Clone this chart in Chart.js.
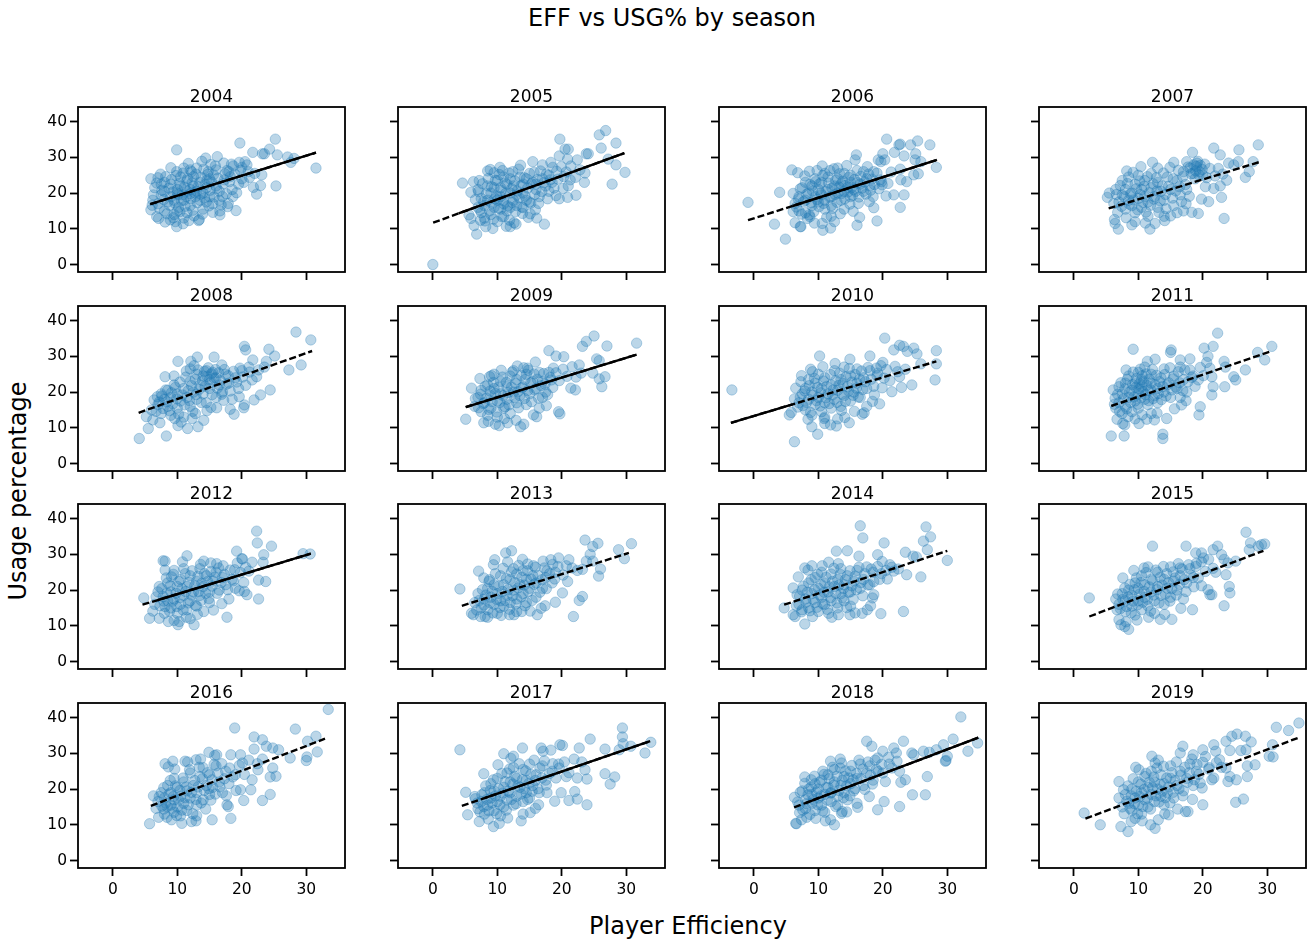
<!DOCTYPE html>
<html>
<head>
<meta charset="utf-8">
<script src="https://cdn.jsdelivr.net/npm/chart.js@4.4.1/dist/chart.umd.min.js"></script>
<style>
  body { margin: 0; background: #fff; font-family: "DejaVu Sans", sans-serif; }
  #fig { position: relative; width: 1313px; height: 946px; overflow: hidden; }
  #fig canvas { position: absolute; }
  .lbl { position: absolute; color: #000; white-space: nowrap; transform: translate(-50%, -50%); }
</style>
</head>
<body>
<div id="fig">
  <div class="lbl" style="left:672px;top:18px;font-size:24px">EFF vs USG% by season</div>
  <div class="lbl" style="left:688px;top:926px;font-size:24px">Player Efficiency</div>
  <div class="lbl" style="left:18px;top:491px;font-size:24px;transform:translate(-50%,-50%) rotate(-90deg)">Usage percentage</div>
</div>
<script>
// EFF (x) vs USG% (y), one panel per season

const seasons = ['2004','2005','2006','2007','2008','2009','2010','2011',
                 '2012','2013','2014','2015','2016','2017','2018','2019'];
const xTicks = [0, 10, 20, 30];
const yTicks = [0, 10, 20, 30, 40];

const pts2004 = [[5.9,24.0],[7.0,24.3],[6.5,21.5],[7.5,22.5],[8.0,20.5],[6.2,18.0],[7.0,17.0],[5.9,15.3],[6.8,13.4],[7.1,12.9],[8.0,15.0],[8.5,17.5],[9.0,19.0],[9.9,10.6],[9.7,12.0],[8.9,12.5],[9.5,14.0],[9.9,32.1],[9.9,26.0],[10.5,22.0],[10.0,21.0],[10.8,19.5],[11.0,18.0],[10.2,16.0],[11.5,14.5],[12.0,16.5],[11.0,27.0],[12.0,26.5],[12.2,26.0],[12.5,24.6],[11.5,23.5],[12.5,22.0],[13.0,20.5],[12.8,19.0],[13.5,18.0],[13.0,27.0],[13.3,12.3],[13.4,12.6],[14.0,15.5],[14.1,26.7],[14.4,29.8],[14.6,23.7],[14.8,26.0],[14.5,21.5],[14.0,20.0],[15.0,19.0],[15.5,17.0],[15.5,14.6],[15.6,25.1],[16.2,30.2],[16.0,22.0],[16.6,15.0],[16.5,20.5],[17.2,28.4],[17.3,23.7],[17.0,19.0],[17.7,26.3],[17.9,17.1],[18.2,24.6],[18.7,27.6],[18.5,21.0],[19.1,15.1],[19.6,28.6],[19.7,34.0],[19.5,22.5],[20.0,27.2],[20.5,28.8],[20.0,24.0],[21.0,26.0],[21.7,31.4],[21.8,21.6],[22.3,19.7],[22.0,25.5],[22.9,22.1],[23.1,25.1],[23.2,31.0],[23.5,31.0],[24.3,32.3],[25.2,35.1],[25.3,22.0],[25.5,30.7],[27.1,30.1],[27.6,28.6],[28.1,29.7],[31.5,27.0],[9.0,22.5],[8.0,23.0],[10.5,24.5],[11.5,20.5],[9.5,18.0],[12.0,21.0],[13.5,23.0],[15.0,24.0],[16.0,26.5],[18.0,26.0],[7.5,19.5],[10.0,15.0],[11.0,13.0],[14.5,17.5],[16.5,18.0],
  [6.3,19.5],[6.8,22.8],[7.2,15.8],[7.6,20.8],[7.9,18.2],[8.2,24.6],[8.4,14.2],[8.7,21.4],[8.8,16.6],[9.1,23.8],[9.3,20.3],[9.4,13.1],[9.6,17.2],[9.8,24.9],[10.1,19.6],[10.3,22.7],[10.4,14.8],[10.6,17.9],[10.9,25.6],[11.1,21.7],[11.2,16.3],[11.4,19.1],[11.6,24.1],[11.8,12.3],[12.1,18.4],[12.3,22.9],[12.4,15.2],[12.7,20.1],[12.9,25.3],[13.1,17.3],[13.2,21.8],[13.6,19.7],[13.7,24.4],[13.9,14.1],[14.2,18.6],[14.3,22.4],[14.7,25.2],[14.9,16.4],[15.1,20.8],[15.3,23.1],[15.7,18.9],[15.9,27.6],[16.1,21.3],[16.3,24.2],[16.8,16.7],[17.1,22.6],[17.4,25.4],[17.6,19.8],[18.1,23.2],[18.4,28.1],[18.9,25.3],[19.2,20.1],[19.8,26.4],[20.3,23.0],[20.8,27.9],[21.2,24.4],[8.1,11.9],[10.9,11.4],[12.6,13.6],[7.4,25.3],[9.0,27.1],[11.7,28.3],[13.8,28.9],[15.2,28.0],[6.1,16.6],[16.6,13.9],[17.8,16.2],[18.6,19.0],[10.0,20.0],[12.0,19.8]];
const pts2005 = [[0,0],[4.6,22.8],[5.9,20.2],[5.6,13.9],[5.9,12.9],[6.4,10.9],[6.8,8.5],[6.3,23.2],[7.2,23.5],[7.0,21.0],[7.5,18.5],[7.0,16.0],[8.2,10.6],[9.3,10.1],[8.0,13.0],[8.5,26.2],[9.5,25.7],[8.5,22.0],[9.0,20.0],[8.5,18.0],[9.5,16.0],[9.0,14.0],[10.0,12.0],[10.8,26.3],[10.0,23.5],[10.5,21.5],[10.5,19.0],[11.0,17.0],[11.5,15.0],[11.0,13.5],[12.0,10.6],[12.9,11.3],[12.4,26.0],[12.0,24.0],[12.5,22.0],[12.0,20.0],[12.5,18.0],[13.0,16.5],[13.9,14.3],[14.0,15.9],[13.5,24.5],[14.0,22.5],[14.0,20.0],[14.5,18.0],[15.5,28.8],[15.0,25.5],[15.5,23.0],[15.9,15.3],[16.0,21.0],[16.5,19.0],[17.0,27.9],[17.3,11.3],[17.0,24.0],[17.5,22.0],[18.6,27.2],[18.0,25.0],[18.5,23.0],[19.1,19.3],[19.6,18.4],[19.7,35.1],[19.6,30.4],[20.3,24.6],[20.5,32.3],[21.0,32.3],[20.9,29.5],[21.4,27.6],[21.0,22.0],[20.9,18.8],[22.2,19.4],[22.8,26.5],[23.5,23.0],[23.6,25.6],[23.8,31.0],[24.1,31.0],[25.8,36.3],[26.8,37.5],[26.1,32.6],[27.2,29.5],[27.8,22.5],[28.4,34.0],[28.4,27.9],[29.8,25.8],[10.0,18.0],[11.5,22.5],[13.0,19.5],[8.0,16.5],[9.5,21.5],[12.0,16.0],[15.0,17.5],[16.0,22.5],[18.0,20.5],[14.5,24.0],[11.0,24.5],[7.5,14.5],[10.5,15.5],
  [6.6,18.2],[7.1,20.4],[7.3,15.3],[7.7,22.6],[7.9,17.6],[8.1,12.2],[8.3,19.8],[8.6,24.1],[8.8,15.0],[9.1,21.8],[9.2,17.1],[9.4,12.7],[9.7,23.6],[9.9,19.2],[10.2,15.8],[10.3,25.2],[10.6,20.7],[10.7,13.4],[10.9,17.9],[11.2,22.8],[11.3,19.9],[11.6,16.4],[11.8,25.6],[11.9,12.4],[12.2,21.2],[12.3,17.4],[12.7,23.4],[12.8,14.8],[13.1,20.6],[13.3,26.7],[13.4,18.7],[13.7,22.1],[13.8,16.1],[14.2,24.3],[14.3,19.1],[14.7,21.4],[14.8,13.2],[15.2,17.2],[15.3,22.6],[15.7,25.8],[15.8,19.6],[16.2,23.8],[16.4,17.1],[16.7,26.2],[16.9,20.4],[17.2,22.9],[17.6,25.3],[17.8,18.4],[18.2,23.7],[18.3,28.6],[18.8,21.4],[19.2,26.1],[19.4,23.9],[19.9,27.4],[20.2,21.3],[20.7,25.9],[21.3,23.7],[22.4,29.3],[22.1,24.4],[8.9,26.6],[10.4,27.2],[11.4,10.7],[12.6,11.7],[13.6,27.8],[7.4,12.4],[15.1,14.2],[16.1,13.0],[9.6,18.4]];
const pts2006 = [[-0.9,17.4],[4.0,20.2],[3.2,11.3],[4.9,7.1],[5.9,26.5],[6.8,25.7],[6.4,11.7],[7.2,10.6],[7.3,10.6],[6.1,14.8],[6.4,17.1],[6.1,19.9],[9.8,26.3],[11.8,26.3],[8.7,13.4],[8.6,13.9],[10.7,9.6],[10.6,11.5],[12.5,12.0],[16.0,26.3],[15.9,30.7],[15.7,29.3],[16.2,17.1],[16.4,13.2],[16.0,11.0],[19.1,12.2],[18.6,15.9],[20.6,35.1],[20.0,31.0],[20.3,29.3],[19.3,29.3],[19.7,28.8],[19.8,23.2],[19.9,22.3],[19.6,23.7],[20.5,19.2],[21.7,19.5],[23.3,19.5],[22.7,16.0],[21.8,31.4],[22.5,33.5],[22.7,33.7],[23.3,30.4],[24.3,33.5],[25.4,34.6],[25.1,31.0],[25.0,29.3],[27.3,33.5],[22.7,26.7],[22.8,23.7],[23.7,23.2],[24.8,25.1],[25.5,25.4],[25.9,28.8],[28.3,27.2],[17.0,26.0],[18.6,26.0],[7.0,19.0],[7.5,21.5],[8.0,18.0],[8.0,23.0],[8.5,20.0],[9.0,16.5],[9.0,22.0],[9.5,19.0],[9.5,24.0],[10.0,17.5],[10.0,21.0],[10.5,19.5],[10.5,23.0],[11.0,15.5],[11.0,18.0],[11.5,21.0],[11.5,24.5],[12.0,19.0],[12.0,16.5],[12.5,22.0],[13.0,20.0],[13.0,24.0],[13.5,18.0],[13.5,22.5],[14.0,20.5],[14.0,25.5],[14.5,21.5],[15.0,19.0],[15.0,23.0],[15.5,21.0],[16.5,22.5],[17.0,20.5],[17.5,24.0],[18.0,22.0],[18.5,19.0],[7.0,15.0],[8.0,14.5],[12.0,13.5],[14.0,15.5],[13.0,27.0],[11.0,25.5],[15.0,25.0],
  [6.6,16.1],[6.9,18.3],[7.2,21.2],[7.4,14.1],[7.7,17.6],[7.9,24.8],[8.2,19.7],[8.3,12.9],[8.7,22.4],[8.9,17.3],[9.1,20.6],[9.3,14.8],[9.6,23.2],[9.8,18.2],[10.1,16.2],[10.2,22.6],[10.4,19.9],[10.7,24.9],[10.8,17.1],[11.2,20.4],[11.3,13.2],[11.6,22.8],[11.8,18.8],[12.1,21.4],[12.2,15.7],[12.6,19.6],[12.7,23.6],[12.9,17.4],[13.2,21.7],[13.3,25.4],[13.6,19.9],[13.8,23.3],[14.1,18.4],[14.2,22.1],[14.6,20.3],[14.7,24.4],[14.9,16.9],[15.2,21.6],[15.3,19.4],[15.6,23.8],[15.8,20.5],[16.1,22.9],[16.3,18.9],[16.6,24.7],[16.8,21.4],[17.2,23.1],[17.4,19.7],[17.8,25.3],[18.1,20.8],[18.3,23.9],[18.7,22.4],[19.1,25.6],[19.4,21.2],[17.6,27.4],[14.4,27.7],[12.4,26.8],[10.6,27.6],[8.6,26.1],[9.4,11.6],[11.9,10.2],[13.4,14.2],[15.4,14.9],[17.9,17.6],[20.8,22.7],[21.3,25.9]];
const pts2007 = [[5.2,18.8],[5.5,20.0],[6.3,12.6],[6.4,11.5],[6.9,9.9],[8.2,26.2],[9.5,12.0],[11.8,9.9],[12.6,11.5],[12.2,28.6],[14.1,12.3],[15.5,28.6],[17.5,28.8],[18.4,31.4],[19.1,28.4],[18.3,14.6],[19.3,14.3],[21.7,32.6],[22.7,30.7],[25.6,32.1],[23.3,12.9],[22.9,18.8],[19.8,18.3],[20.9,17.6],[28.6,33.5],[27.8,28.8],[27.2,26.0],[26.6,24.4],[24.0,28.4],[25.5,28.8],[24.8,27.9],[20.4,21.8],[21.7,21.3],[22.7,22.0],[6.5,21.0],[7.0,17.5],[7.5,19.5],[7.5,23.5],[8.0,15.5],[8.0,21.0],[8.5,18.0],[8.5,24.5],[9.0,16.5],[9.0,20.0],[9.5,22.5],[9.5,14.5],[10.0,18.5],[10.0,25.0],[10.5,16.0],[10.5,21.0],[11.0,19.0],[11.0,23.5],[11.5,13.5],[11.5,17.5],[12.0,21.5],[12.0,25.5],[12.5,19.0],[13.0,16.0],[13.0,23.0],[13.5,20.5],[14.0,18.0],[14.5,24.5],[15.0,21.0],[15.5,16.5],[16.0,23.5],[16.5,19.5],[17.0,26.0],[17.5,21.0],[18.0,27.0],[18.5,25.5],[19.0,27.5],[19.5,26.0],[18.8,24.0],[20.0,25.0],[16.0,14.5],[17.0,15.0],[14.0,13.5],
  [6.2,17.1],[6.6,19.6],[6.8,14.6],[7.2,22.1],[7.4,16.3],[7.8,19.0],[8.1,13.1],[8.3,22.7],[8.6,16.9],[8.8,19.8],[9.2,25.8],[9.3,18.1],[9.7,21.2],[9.9,15.3],[10.2,23.4],[10.3,19.6],[10.7,17.4],[10.9,21.9],[11.2,14.7],[11.4,24.6],[11.7,20.1],[11.9,16.6],[12.3,22.6],[12.4,18.3],[12.8,24.3],[12.9,20.6],[13.2,14.6],[13.4,17.8],[13.7,22.0],[13.9,25.6],[14.2,19.6],[14.3,15.6],[14.7,21.9],[14.9,27.2],[15.3,18.6],[15.4,24.0],[15.8,20.6],[16.2,26.4],[16.4,21.8],[16.7,17.6],[16.9,24.6],[17.3,22.4],[17.7,27.3],[17.9,19.1],[18.2,25.4],[18.6,27.9],[18.9,26.2],[19.2,28.9],[19.4,25.1],[19.6,27.8],[19.9,26.6],[20.3,28.1],[20.6,24.3],[21.1,26.9],[21.9,24.8],[22.4,26.9],[23.1,25.3],[23.7,23.6],[10.4,27.4],[13.0,27.0],[11.1,11.6],[9.0,11.1],[15.0,13.6],[17.4,17.0]];
const pts2008 = [[4.1,7.0],[5.5,9.8],[8.3,7.7],[5.2,13.1],[6.4,17.8],[6.9,18.7],[7.5,19.5],[8.1,24.3],[10.1,28.6],[12.1,28.6],[13.1,29.8],[10.1,10.6],[11.6,9.8],[13.2,10.3],[12.8,14.0],[14.6,14.8],[15.2,15.7],[15.7,29.8],[16.9,27.6],[18.8,13.8],[20.3,15.6],[20.4,16.4],[20.4,32.8],[20.6,31.8],[21.9,17.8],[22.9,19.2],[24.4,20.6],[24.2,32.0],[25.1,30.1],[23.8,28.6],[23.5,27.0],[22.3,24.3],[27.3,26.2],[28.4,36.8],[29.2,27.6],[30.7,34.6],[21.7,29.0],[21.1,27.0],[6.0,15.0],[7.0,16.5],[7.5,14.0],[8.0,18.0],[8.5,16.0],[8.5,20.5],[9.0,13.5],[9.0,18.5],[9.5,22.0],[10.0,15.5],[10.0,19.5],[10.5,17.5],[11.0,21.0],[11.0,13.0],[11.5,18.5],[12.0,16.0],[12.0,23.0],[12.5,20.0],[13.0,18.0],[13.0,25.0],[13.5,22.0],[14.0,24.5],[14.0,19.5],[14.5,26.0],[15.0,23.5],[15.0,21.0],[15.5,25.5],[16.0,18.5],[16.0,24.0],[16.5,22.0],[17.0,20.0],[17.5,25.0],[18.0,22.5],[18.5,18.0],[19.0,24.0],[19.5,21.0],[20.0,26.0],[14.5,17.0],[12.0,26.5],[9.5,24.5],
  [6.7,14.6],[7.2,17.2],[7.6,18.9],[7.8,15.4],[8.2,20.6],[8.4,17.3],[8.8,14.8],[9.1,19.8],[9.3,16.7],[9.7,21.3],[9.9,18.1],[10.2,13.8],[10.4,22.8],[10.8,19.2],[11.1,16.4],[11.3,24.2],[11.7,20.4],[11.9,17.6],[12.2,21.8],[12.4,14.6],[12.8,23.6],[12.9,19.3],[13.2,26.2],[13.4,20.8],[13.7,17.1],[13.9,23.2],[14.2,25.8],[14.3,21.6],[14.6,24.4],[14.8,26.8],[15.1,22.6],[15.3,25.1],[15.4,19.3],[15.7,23.9],[15.9,26.3],[16.2,21.1],[16.4,25.4],[16.7,23.2],[16.9,19.4],[17.3,26.3],[17.6,22.2],[17.9,24.6],[18.2,20.3],[18.7,25.8],[19.2,22.8],[19.7,26.7],[20.1,24.2],[20.6,21.9],[21.2,25.6],[21.6,23.4],[22.6,26.2],[11.4,25.9],[12.6,27.4],[10.6,11.6],[12.3,12.6],[14.1,12.1],[16.1,15.6],[17.2,17.7],[9.6,12.6],[18.2,15.2],[6.2,12.2],[7.3,11.4],[19.6,18.7]];
const pts2009 = [[5.1,12.4],[6.0,21.1],[7.3,23.8],[8.8,24.3],[7.9,11.4],[9.7,11.0],[10.3,10.6],[11.6,11.4],[13.6,10.3],[14.1,11.0],[15.6,13.6],[18.0,31.6],[19.1,30.1],[20.3,29.9],[19.5,14.5],[19.7,13.9],[21.4,21.1],[22.1,20.6],[22.7,27.6],[23.0,25.3],[23.2,32.8],[23.8,34.2],[25.0,35.7],[25.4,29.3],[25.8,28.8],[27.0,32.9],[24.8,25.3],[26.7,24.3],[25.8,23.7],[26.2,21.5],[31.6,33.7],[18.4,23.4],[18.7,26.7],[14.1,26.8],[14.7,26.7],[15.9,28.4],[6.5,16.0],[7.0,18.5],[7.5,14.5],[7.5,20.5],[8.0,17.0],[8.5,22.0],[8.5,13.5],[9.0,19.0],[9.0,15.5],[9.5,21.0],[10.0,17.5],[10.0,13.0],[10.5,23.0],[10.5,19.5],[11.0,15.5],[11.5,21.5],[11.5,18.0],[12.0,24.5],[12.0,14.0],[12.5,20.0],[13.0,17.0],[13.0,23.5],[13.5,19.0],[14.0,21.5],[14.5,25.0],[14.5,16.5],[15.0,19.5],[15.5,23.0],[16.0,21.0],[16.5,25.5],[17.0,18.5],[17.0,23.0],[17.5,20.0],[18.0,25.5],[16.5,15.5],[12.5,26.0],[9.5,25.0],
  [6.6,18.2],[7.1,15.6],[7.4,19.4],[7.8,16.8],[8.1,21.6],[8.3,18.3],[8.7,15.1],[8.9,20.3],[9.2,17.3],[9.4,22.7],[9.7,19.6],[9.9,14.4],[10.2,21.4],[10.4,17.1],[10.8,24.2],[10.9,19.0],[11.2,15.9],[11.4,22.7],[11.7,19.9],[11.8,16.4],[12.2,21.4],[12.3,25.6],[12.7,18.4],[12.8,22.5],[13.2,20.1],[13.3,15.6],[13.7,24.6],[13.8,21.2],[14.2,18.2],[14.3,23.5],[14.7,20.4],[14.8,26.1],[15.2,22.6],[15.3,17.3],[15.7,25.1],[15.8,20.6],[16.2,23.6],[16.4,18.3],[16.8,21.8],[17.2,25.2],[17.4,22.2],[17.8,19.3],[18.2,24.1],[18.6,21.3],[19.1,25.4],[19.6,23.2],[20.2,26.4],[20.8,24.4],[21.6,27.1],[22.2,24.2],[8.6,11.8],[11.1,12.6],[12.9,12.1],[16.1,13.1],[17.6,16.2],[10.6,26.1],[13.1,27.3],[9.1,24.6]];
const pts2010 = [[-3.4,20.6],[6.3,6.1],[5.5,13.6],[5.8,14.3],[6.5,21.1],[6.3,18.1],[7.3,22.9],[8.8,26.4],[9.1,25.7],[10.2,30.1],[9.0,10.3],[9.9,8.2],[11.0,11.2],[11.9,10.8],[12.8,10.5],[14.8,11.4],[16.8,13.8],[17.1,14.2],[14.9,29.2],[18.0,30.1],[19.5,16.7],[18.7,19.2],[20.3,35.1],[20.0,28.3],[19.0,26.7],[21.7,31.8],[22.6,33.1],[23.2,32.8],[23.8,31.4],[24.8,32.3],[25.3,30.7],[21.4,20.1],[22.9,21.3],[24.5,22.0],[23.5,26.4],[22.3,25.7],[22.6,24.3],[25.9,27.9],[28.3,31.6],[28.3,27.9],[28.1,23.4],[19.2,25.3],[20.2,23.9],[7.0,17.0],[7.5,19.5],[8.0,15.0],[8.0,21.0],[8.5,18.0],[8.5,23.5],[9.0,13.5],[9.0,20.0],[9.5,16.5],[9.5,22.5],[10.0,18.5],[10.0,25.0],[10.5,14.5],[10.5,21.0],[11.0,17.0],[11.0,24.0],[11.5,19.5],[12.0,22.0],[12.0,15.5],[12.5,26.0],[12.5,18.0],[13.0,20.5],[13.5,23.5],[13.5,16.0],[14.0,19.0],[14.0,27.0],[14.5,21.5],[15.0,17.5],[15.0,24.5],[15.5,20.0],[16.0,26.5],[16.0,22.5],[16.5,18.5],[17.0,24.0],[17.5,21.0],[18.0,26.0],[13.0,12.5],[11.0,13.0],[17.5,16.0],
  [6.8,15.8],[7.2,18.6],[7.6,16.2],[7.9,20.3],[8.2,17.1],[8.6,21.8],[8.8,14.3],[9.2,19.1],[9.4,23.8],[9.7,17.6],[9.9,21.3],[10.3,16.1],[10.4,19.8],[10.8,23.1],[11.2,18.4],[11.3,21.6],[11.7,16.8],[11.9,24.9],[12.2,19.2],[12.3,20.6],[12.7,23.2],[12.9,17.1],[13.2,21.9],[13.3,25.3],[13.7,19.4],[13.8,22.4],[14.2,17.4],[14.3,24.3],[14.7,20.3],[14.8,26.6],[15.2,22.8],[15.4,19.1],[15.7,24.9],[15.9,21.1],[16.2,18.6],[16.4,23.6],[16.7,25.9],[16.9,20.7],[17.3,22.9],[17.7,26.9],[18.2,23.6],[18.6,21.6],[19.1,24.6],[19.7,27.4],[20.6,26.3],[21.1,23.2],[21.9,27.2],[10.7,27.1],[12.6,28.0],[8.4,12.4],[10.9,12.6],[14.1,12.9],[15.6,14.6],[13.6,14.9],[7.4,24.6],[18.4,17.4],[19.9,21.2]];
const pts2011 = [[5.8,7.7],[7.8,7.7],[13.8,8.2],[13.8,7.0],[9.2,32.0],[8.1,26.2],[6.4,18.3],[6.1,20.6],[7.0,21.5],[6.7,12.4],[7.6,11.2],[7.9,10.8],[10.1,11.2],[11.3,12.4],[12.5,12.2],[14.4,12.6],[15.1,31.8],[15.0,31.1],[16.5,29.0],[16.5,27.0],[18.0,29.3],[16.7,16.4],[16.5,18.5],[19.4,13.6],[19.6,15.9],[20.2,32.3],[21.6,32.8],[22.3,36.5],[20.8,30.0],[21.1,26.7],[21.4,24.3],[21.6,21.5],[21.4,19.2],[23.3,28.6],[23.5,27.0],[23.4,21.5],[24.8,24.3],[25.1,23.4],[26.6,26.2],[28.5,31.1],[29.6,29.0],[30.7,32.8],[19.3,23.4],[18.0,26.2],[6.5,15.5],[7.0,17.0],[7.5,14.0],[7.5,19.5],[8.0,22.5],[8.0,16.0],[8.5,18.5],[8.5,24.5],[9.0,20.5],[9.0,14.5],[9.5,22.5],[9.5,17.5],[10.0,25.5],[10.0,19.5],[10.0,15.5],[10.5,21.5],[10.5,23.5],[11.0,18.0],[11.0,27.0],[11.5,20.5],[11.5,16.5],[12.0,22.5],[12.0,25.0],[12.5,19.0],[13.0,21.0],[13.0,17.0],[13.5,24.0],[14.0,20.0],[14.5,22.0],[15.0,18.5],[15.5,24.5],[16.0,21.0],[17.0,23.5],[17.5,20.0],[18.5,24.5],[12.0,14.0],[9.5,12.5],[14.0,26.5],
  [6.3,16.6],[6.8,19.4],[7.1,14.6],[7.3,22.6],[7.7,18.1],[7.9,20.9],[8.2,15.3],[8.3,23.6],[8.6,19.9],[8.8,17.1],[9.1,22.1],[9.2,25.6],[9.3,18.6],[9.6,21.3],[9.7,23.8],[9.9,16.6],[10.1,20.9],[10.2,22.4],[10.3,26.4],[10.4,18.4],[10.6,24.6],[10.7,20.1],[10.8,22.9],[11.1,19.3],[11.2,25.1],[11.3,21.9],[11.6,17.6],[11.7,23.6],[11.9,20.6],[12.2,26.3],[12.3,18.2],[12.6,22.1],[12.8,24.7],[13.1,19.6],[13.3,22.9],[13.6,17.9],[13.8,21.6],[14.1,24.9],[14.3,18.9],[14.7,22.6],[14.9,26.8],[15.2,20.6],[15.4,23.7],[15.8,21.4],[16.2,25.7],[16.4,22.6],[16.9,20.4],[17.2,26.2],[17.7,22.9],[18.3,24.1],[18.8,21.6],[19.6,26.9],[20.1,24.6],[20.6,28.3],[8.4,13.1],[10.6,13.6],[12.9,14.1],[15.6,15.3],[17.4,17.6],[11.4,28.6],[12.6,29.2]];
const pts2012 = [[4.8,17.8],[5.7,12.1],[7.2,12.1],[8.6,11.2],[10.1,10.3],[10.3,11.2],[12.6,10.3],[7.8,28.2],[8.1,28.1],[9.1,23.7],[7.2,21.0],[7.8,18.2],[8.1,15.4],[11.5,29.6],[14.1,14.0],[17.7,12.4],[15.2,27.6],[16.1,27.4],[17.1,26.8],[19.2,30.9],[20.0,28.8],[20.1,28.7],[20.3,22.1],[20.8,18.7],[20.4,19.6],[22.6,17.5],[22.3,36.5],[22.4,33.2],[24.6,32.3],[23.4,29.9],[23.3,27.8],[22.6,22.8],[23.7,22.4],[29.5,30.2],[30.6,30.1],[18.9,25.7],[21.1,25.3],[6.5,16.0],[7.0,19.5],[8.0,13.5],[8.5,17.0],[8.5,22.0],[9.0,15.0],[9.0,19.5],[9.5,17.5],[9.5,25.5],[10.0,13.5],[10.0,21.0],[10.5,16.0],[10.5,23.0],[11.0,18.5],[11.0,26.0],[11.5,14.5],[11.5,21.0],[12.0,17.0],[12.0,24.0],[12.5,19.5],[13.0,22.5],[13.0,15.5],[13.5,26.0],[13.5,18.5],[14.0,21.0],[14.5,24.0],[15.0,19.5],[15.0,16.5],[15.5,22.5],[16.0,25.0],[16.5,20.0],[17.0,23.5],[17.5,21.5],[18.0,17.5],[18.5,23.0],[19.0,20.5],[12.0,12.0],[9.5,11.5],
  [6.2,14.1],[6.7,18.1],[7.3,15.6],[7.6,20.4],[7.9,16.9],[8.3,23.4],[8.4,19.1],[8.8,14.1],[8.9,21.2],[9.3,16.9],[9.4,24.4],[9.8,19.1],[9.9,15.4],[10.2,22.4],[10.4,17.9],[10.7,20.4],[10.9,14.4],[11.2,24.6],[11.3,19.6],[11.7,16.4],[11.8,22.2],[12.2,18.6],[12.3,25.4],[12.7,21.2],[12.8,15.7],[13.2,23.9],[13.3,19.6],[13.7,17.1],[13.8,21.9],[14.2,24.6],[14.4,19.1],[14.7,22.4],[14.9,17.6],[15.2,25.2],[15.4,21.1],[15.8,23.6],[16.2,19.1],[16.4,26.2],[16.8,22.1],[17.3,24.4],[17.8,20.1],[18.2,25.6],[18.7,22.6],[19.3,27.6],[19.8,24.9],[20.6,26.4],[21.6,27.8],[13.6,27.2],[10.8,27.9],[11.4,12.4],[13.1,13.2],[15.6,14.4],[16.9,16.2],[19.6,19.8],[8.1,25.6],[14.1,28.1]];
const pts2013 = [[4.2,20.3],[6.0,13.5],[6.3,13.1],[7.1,25.3],[7.9,23.4],[8.8,22.9],[7.4,12.6],[8.5,12.4],[9.6,28.5],[11.3,30.4],[12.2,31.0],[11.9,13.1],[13.8,14.0],[16.2,13.1],[16.8,14.9],[19.0,16.6],[17.1,28.1],[18.3,28.5],[19.5,29.0],[21.1,28.5],[20.7,26.8],[21.8,12.6],[22.7,17.1],[23.2,18.2],[20.1,19.2],[22.4,25.5],[23.2,25.8],[23.6,34.0],[24.8,32.2],[25.6,33.1],[24.4,30.0],[24.8,28.1],[23.8,28.1],[26.0,25.9],[25.7,23.9],[28.8,31.3],[29.7,28.8],[30.8,33.0],[17.7,25.4],[15.6,26.8],[14.7,27.3],[6.5,16.5],[7.0,19.0],[7.5,15.0],[8.0,17.5],[8.5,20.5],[8.5,14.5],[9.0,18.0],[9.5,16.0],[9.5,21.5],[10.0,13.5],[10.0,19.0],[10.5,17.0],[10.5,24.0],[11.0,15.5],[11.0,21.5],[11.5,18.5],[12.0,16.5],[12.0,23.0],[12.5,20.0],[12.5,26.0],[13.0,17.5],[13.0,24.5],[13.5,21.5],[14.0,19.0],[14.0,25.5],[14.5,16.5],[14.5,23.0],[15.0,20.5],[15.5,24.0],[16.0,18.0],[16.0,22.0],[17.0,20.5],[17.5,23.5],[18.5,22.0],[19.0,25.0],[13.0,14.0],
  [6.8,14.4],[7.2,17.1],[7.7,20.1],[7.9,15.8],[8.2,18.6],[8.7,22.4],[8.9,16.4],[9.2,19.6],[9.3,13.6],[9.7,24.6],[9.9,17.4],[10.2,21.1],[10.4,15.1],[10.8,19.6],[10.9,26.1],[11.2,17.1],[11.4,23.2],[11.7,20.1],[11.9,14.6],[12.2,25.1],[12.4,18.4],[12.7,22.1],[12.9,16.1],[13.2,20.6],[13.3,26.9],[13.7,18.1],[13.8,23.6],[14.2,21.4],[14.3,15.6],[14.7,25.4],[14.8,19.6],[15.2,23.1],[15.4,17.1],[15.7,21.6],[15.9,26.4],[16.3,24.1],[16.6,19.4],[16.9,22.9],[17.3,26.2],[17.6,20.4],[18.1,24.6],[18.6,27.2],[18.9,23.1],[19.4,26.6],[20.2,24.2],[20.9,22.4],[21.6,26.2],[8.1,12.6],[10.6,12.9],[12.6,13.1],[15.1,14.1],[17.4,15.6],[11.6,27.9],[13.9,28.6],[9.4,27.1]];
const pts2014 = [[4.7,15.0],[6.1,13.1],[6.4,12.6],[7.9,10.5],[6.9,23.7],[7.9,26.2],[9.0,26.8],[6.1,20.6],[6.7,18.7],[11.6,27.8],[12.8,30.9],[14.5,31.0],[16.5,38.0],[16.9,34.6],[11.6,13.5],[13.1,13.1],[14.9,13.1],[16.8,13.5],[17.6,14.5],[19.7,13.4],[20.2,33.2],[19.2,29.9],[16.3,29.5],[18.4,17.8],[18.6,18.7],[23.2,14.0],[23.5,30.6],[24.7,29.5],[25.2,29.3],[23.7,24.3],[25.9,23.7],[26.3,33.7],[26.7,37.7],[27.4,34.9],[26.9,31.3],[30.0,28.3],[21.7,25.3],[21.1,27.1],[19.9,28.0],[7.0,16.0],[7.5,14.5],[7.5,20.0],[8.0,17.5],[8.5,22.0],[8.5,15.0],[9.0,19.0],[9.5,16.5],[9.5,23.5],[10.0,14.0],[10.0,20.5],[10.5,18.0],[10.5,25.0],[11.0,16.0],[11.0,22.0],[11.5,19.5],[12.0,24.5],[12.0,17.0],[12.5,21.0],[13.0,15.0],[13.0,23.0],[13.5,19.0],[13.5,26.0],[14.0,17.0],[14.0,21.5],[14.5,24.0],[15.0,19.5],[15.0,15.5],[15.5,22.5],[16.0,25.5],[16.5,20.5],[17.0,23.0],[17.5,26.5],[18.0,21.5],[18.5,25.0],[19.5,23.0],[20.5,25.5],
  [6.6,15.6],[7.1,18.3],[7.4,13.9],[7.7,21.1],[8.1,16.6],[8.3,19.4],[8.7,14.2],[8.9,22.9],[9.2,17.4],[9.4,20.1],[9.8,15.2],[9.9,24.4],[10.2,18.6],[10.4,21.6],[10.7,16.1],[10.9,19.4],[11.2,23.6],[11.4,14.6],[11.7,20.9],[11.9,17.9],[12.2,22.4],[12.4,26.1],[12.7,19.1],[12.9,16.4],[13.2,21.4],[13.4,24.4],[13.7,17.9],[13.9,20.4],[14.2,22.9],[14.4,15.1],[14.7,19.4],[14.9,25.4],[15.2,21.2],[15.4,17.4],[15.7,23.9],[15.9,20.1],[16.3,26.4],[16.6,22.1],[16.9,18.4],[17.2,24.6],[17.7,21.4],[18.2,25.9],[18.6,22.4],[19.2,26.6],[19.8,24.6],[20.7,23.1],[21.4,26.4],[22.4,25.9],[9.1,12.6],[12.1,12.4],[15.7,13.6],[18.1,15.6],[13.1,27.4],[10.6,26.8],[8.4,25.6]];
const pts2015 = [[2.4,17.8],[6.7,14.5],[7.0,11.7],[7.3,10.3],[8.5,9.0],[7.9,9.8],[7.6,23.4],[9.3,25.5],[10.9,26.2],[12.2,32.3],[15.2,11.8],[13.4,11.8],[16.5,26.2],[17.4,32.3],[18.9,30.4],[19.8,30.4],[20.1,29.0],[21.6,31.3],[22.3,32.3],[22.9,29.9],[18.4,14.5],[21.1,18.7],[21.4,18.7],[20.8,20.1],[19.8,21.2],[22.0,25.0],[23.6,24.3],[23.9,27.6],[23.3,28.6],[24.1,21.0],[24.2,19.2],[23.3,15.6],[25.1,28.1],[26.7,36.2],[27.4,33.2],[27.2,31.3],[28.6,32.3],[29.1,32.7],[29.6,32.9],[6.5,17.5],[7.0,16.0],[7.5,19.0],[8.0,14.0],[8.0,17.0],[8.5,20.0],[9.0,15.5],[9.0,18.5],[9.5,13.0],[9.5,22.0],[10.0,17.0],[10.0,20.5],[10.5,14.5],[10.5,24.0],[11.0,18.0],[11.0,21.5],[11.5,15.5],[11.5,26.5],[12.0,19.5],[12.0,23.0],[12.5,17.0],[12.5,13.5],[13.0,21.0],[13.0,25.0],[13.5,18.5],[14.0,23.0],[14.0,16.0],[14.5,20.5],[15.0,26.5],[15.0,18.0],[15.5,22.5],[16.0,20.0],[16.5,24.0],[17.0,17.5],[17.5,22.0],[18.0,26.0],[18.5,23.5],[19.0,27.5],
  [6.8,18.9],[7.2,14.8],[7.6,17.4],[7.9,20.6],[8.2,15.4],[8.4,18.1],[8.7,21.6],[8.9,13.6],[9.2,16.9],[9.4,20.1],[9.7,23.4],[9.9,15.9],[10.2,18.9],[10.4,22.1],[10.7,16.6],[10.9,19.6],[11.2,24.9],[11.4,17.4],[11.7,20.9],[11.9,14.1],[12.2,22.6],[12.4,18.6],[12.7,25.6],[12.9,20.1],[13.2,16.4],[13.4,23.6],[13.7,21.4],[13.9,26.6],[14.2,18.9],[14.4,24.6],[14.7,22.1],[14.9,16.9],[15.2,20.4],[15.4,25.1],[15.7,23.4],[15.9,18.6],[16.2,27.4],[16.4,21.6],[16.8,25.9],[17.1,22.9],[17.4,19.6],[17.8,27.1],[18.2,24.1],[18.6,20.9],[18.9,26.6],[19.3,23.4],[19.8,27.9],[20.4,25.2],[20.9,28.6],[21.6,26.1],[9.8,11.6],[11.6,12.4],[14.1,13.2],[16.6,14.9],[8.1,11.1]];
const pts2016 = [[5.7,10.3],[6.3,18.1],[7.1,12.1],[8.6,26.2],[9.3,27.8],[7.9,14.4],[8.4,15.1],[9.1,11.4],[10.7,10.4],[12.2,10.9],[11.2,27.8],[12.9,28.2],[14.9,30.3],[15.8,29.4],[15.4,11.4],[18.3,11.8],[17.7,15.6],[17.9,15.1],[18.9,37.1],[18.3,29.6],[19.8,29.6],[20.1,27.3],[20.3,16.8],[21.4,19.8],[19.8,19.8],[21.9,34.6],[23.2,33.8],[21.9,31.2],[23.8,32.0],[24.8,31.5],[25.7,31.0],[22.5,25.4],[23.2,28.4],[23.2,16.8],[24.4,18.5],[24.4,23.4],[24.8,25.9],[25.3,23.6],[27.5,28.7],[28.3,36.8],[30.0,28.0],[30.1,29.0],[30.2,33.4],[31.5,34.8],[31.7,30.4],[33.4,42.3],[7.0,16.5],[7.5,19.0],[8.0,13.0],[8.0,17.5],[8.5,21.0],[9.0,15.5],[9.0,19.0],[9.5,13.5],[9.5,17.0],[9.5,23.0],[10.0,15.0],[10.0,20.5],[10.5,18.0],[10.5,12.5],[11.0,16.0],[11.0,22.0],[11.5,19.5],[11.5,14.0],[12.0,17.5],[12.0,24.5],[12.5,21.0],[13.0,15.5],[13.0,19.0],[13.5,23.5],[14.0,17.0],[14.0,26.0],[14.5,21.0],[15.0,18.5],[15.0,24.0],[15.5,20.5],[16.0,26.5],[16.5,22.0],[17.0,19.0],[17.5,25.0],[18.0,21.5],[19.0,24.0],[13.0,12.5],
  [6.7,14.6],[7.2,17.9],[7.6,15.2],[7.9,20.4],[8.2,16.1],[8.4,12.1],[8.7,18.6],[8.9,22.4],[9.2,14.6],[9.4,17.9],[9.7,20.9],[9.9,12.6],[10.2,16.9],[10.4,19.6],[10.7,14.1],[10.9,23.1],[11.2,17.6],[11.4,20.6],[11.7,15.6],[11.9,25.4],[12.2,19.1],[12.4,13.1],[12.7,22.4],[12.9,17.1],[13.2,20.6],[13.4,26.1],[13.7,16.1],[13.9,22.9],[14.2,19.6],[14.4,14.4],[14.7,24.6],[14.9,20.1],[15.2,16.9],[15.4,22.6],[15.7,26.9],[15.9,18.6],[16.3,24.4],[16.6,20.6],[16.9,27.1],[17.3,22.9],[17.6,18.1],[18.1,25.9],[18.6,23.4],[19.1,19.6],[19.6,26.6],[20.4,24.1],[21.1,28.1],[21.6,22.6],[22.4,27.1],[9.6,25.6],[11.6,27.6],[13.6,28.4],[16.1,29.6],[8.1,27.1],[12.9,11.1]];
const pts2017 = [[4.2,31.0],[5.1,19.1],[5.4,12.8],[7.2,10.9],[6.5,17.9],[6.6,17.3],[7.9,24.3],[9.4,9.5],[10.3,10.4],[13.7,11.1],[10.1,26.8],[11.0,29.9],[12.5,29.2],[13.9,31.5],[15.9,14.6],[16.8,31.5],[17.1,30.6],[18.3,30.9],[19.7,32.4],[20.1,32.2],[17.7,19.0],[18.9,16.6],[19.9,19.0],[21.1,16.8],[22.0,19.3],[22.4,17.2],[23.9,15.6],[22.7,31.5],[24.4,34.0],[26.7,31.2],[28.9,31.0],[29.4,37.1],[29.4,34.6],[29.5,32.7],[30.7,32.0],[32.9,30.1],[33.8,33.1],[20.7,23.5],[22.4,23.1],[23.6,25.4],[23.9,22.8],[26.7,24.3],[28.2,23.4],[27.5,21.4],[7.0,14.5],[7.5,16.5],[8.0,13.0],[8.0,19.0],[8.5,15.5],[9.0,17.5],[9.0,21.5],[9.5,14.0],[9.5,19.5],[10.0,16.5],[10.0,23.0],[10.5,18.0],[10.5,12.5],[11.0,20.5],[11.0,15.0],[11.5,17.0],[11.5,24.5],[12.0,19.0],[12.0,22.0],[12.5,15.5],[12.5,26.0],[13.0,18.0],[13.0,23.0],[13.5,20.5],[14.0,16.5],[14.0,25.5],[14.5,19.0],[14.5,22.5],[15.0,17.5],[15.0,27.0],[15.5,21.0],[16.0,24.0],[16.5,19.0],[17.0,26.5],[17.5,22.5],[18.5,25.0],[19.5,27.0],[14.0,13.0],
  [6.9,16.1],[7.3,13.6],[7.6,18.4],[7.9,15.1],[8.2,20.9],[8.4,17.1],[8.7,13.9],[8.9,19.6],[9.2,16.1],[9.4,22.6],[9.7,18.1],[9.9,13.1],[10.2,20.1],[10.4,15.6],[10.7,24.4],[10.9,18.9],[11.2,22.1],[11.4,14.1],[11.7,19.4],[11.9,25.6],[12.2,17.1],[12.4,21.4],[12.7,23.6],[12.9,15.9],[13.2,20.9],[13.4,27.1],[13.7,18.6],[13.9,22.6],[14.2,20.1],[14.4,25.1],[14.7,17.1],[14.9,21.6],[15.2,24.1],[15.4,19.4],[15.7,28.1],[15.9,22.4],[16.3,20.1],[16.6,25.9],[16.9,23.1],[17.3,27.9],[17.6,21.1],[18.1,24.4],[18.6,27.1],[19.1,23.1],[19.6,25.9],[20.4,27.6],[21.1,24.6],[21.9,28.4],[23.1,27.6],[8.6,11.6],[11.6,11.9],[15.1,13.4],[16.4,15.6],[12.1,28.6]];
const pts2018 = [[6.3,17.7],[6.5,10.4],[6.6,10.3],[7.1,13.4],[8.2,12.1],[9.6,11.8],[7.9,23.4],[8.9,22.6],[10.7,25.0],[11.9,27.8],[13.4,28.4],[13.6,27.3],[11.9,11.4],[12.5,10.0],[13.6,13.2],[13.7,13.7],[17.5,33.4],[18.3,32.0],[19.2,28.7],[20.0,30.6],[21.7,31.5],[23.2,33.4],[22.2,27.8],[19.2,14.2],[20.2,16.5],[22.6,15.1],[22.8,21.9],[24.6,18.4],[26.6,18.4],[26.9,23.5],[24.5,30.1],[24.8,29.6],[26.3,30.6],[27.2,30.3],[28.3,31.0],[29.4,32.4],[30.0,29.2],[29.8,28.0],[29.7,27.8],[30.9,34.0],[32.1,40.2],[33.2,30.6],[34.7,32.9],[22.6,25.0],[23.5,22.6],[7.0,15.5],[7.5,19.5],[8.0,17.0],[8.0,14.5],[8.5,20.0],[9.0,16.0],[9.0,18.5],[9.5,21.5],[9.5,14.0],[10.0,17.5],[10.0,20.0],[10.5,15.5],[10.5,22.5],[11.0,18.5],[11.0,13.5],[11.5,20.5],[11.5,24.0],[12.0,16.5],[12.0,19.0],[12.5,22.0],[12.5,25.5],[13.0,18.0],[13.0,15.5],[13.5,21.0],[14.0,23.5],[14.0,19.0],[14.5,17.0],[15.0,21.5],[15.0,25.0],[15.5,19.5],[16.0,23.0],[16.5,27.0],[17.0,21.0],[17.5,24.5],[18.0,26.5],[18.5,22.5],[19.0,25.5],[20.0,24.5],[21.0,27.0],[16.0,16.0],
  [6.8,16.4],[7.2,19.1],[7.6,14.1],[7.9,21.6],[8.2,15.9],[8.4,18.4],[8.7,12.9],[8.9,20.6],[9.2,17.1],[9.4,23.6],[9.7,19.1],[9.9,15.6],[10.2,21.9],[10.4,18.1],[10.7,13.9],[10.9,24.1],[11.2,20.4],[11.4,16.9],[11.7,22.9],[11.9,18.9],[12.2,26.1],[12.4,21.1],[12.7,15.1],[12.9,23.6],[13.2,19.6],[13.4,25.9],[13.7,22.4],[13.9,17.6],[14.2,25.1],[14.4,20.9],[14.7,23.1],[14.9,18.1],[15.2,26.6],[15.4,22.6],[15.7,20.1],[15.9,24.4],[16.3,28.1],[16.6,22.9],[16.9,25.6],[17.2,19.9],[17.7,27.6],[18.1,23.9],[18.4,21.4],[18.8,28.1],[19.3,24.9],[19.8,26.9],[20.4,22.1],[20.9,28.9],[21.4,25.9],[22.1,30.1],[11.1,11.1],[14.4,13.6],[16.1,14.9],[17.9,17.9],[7.4,11.4]];
const pts2019 = [[1.6,13.3],[4.1,10.0],[7.3,9.5],[8.4,8.1],[8.9,10.9],[9.5,11.8],[7.0,17.5],[7.7,19.8],[7.0,22.1],[10.1,25.4],[12.1,29.2],[12.6,27.3],[11.9,10.0],[12.6,9.0],[13.1,11.4],[14.7,12.8],[17.3,13.7],[17.7,13.7],[20.0,15.6],[16.9,32.0],[16.5,30.1],[18.5,29.6],[20.0,31.0],[21.7,32.4],[22.0,30.6],[24.2,30.8],[25.9,30.8],[26.7,31.0],[23.6,33.4],[24.5,34.8],[25.3,35.4],[26.6,34.8],[27.5,33.2],[19.6,21.7],[19.9,20.3],[21.7,23.1],[23.9,22.1],[25.2,22.6],[25.1,16.3],[26.3,17.2],[24.2,23.5],[26.9,23.5],[28.1,26.8],[26.9,26.5],[30.3,29.2],[30.9,29.0],[31.4,37.3],[30.8,32.4],[33.3,36.4],[34.9,38.5],[22.6,28.2],[23.6,25.9],[7.5,15.0],[8.0,18.5],[8.5,16.0],[9.0,14.0],[9.0,20.0],[9.5,17.5],[10.0,15.5],[10.0,22.0],[10.5,19.0],[10.5,13.0],[11.0,17.0],[11.0,23.5],[11.5,20.5],[11.5,15.0],[12.0,18.5],[12.0,25.0],[12.5,22.0],[12.5,16.5],[13.0,20.0],[13.5,18.0],[13.5,24.0],[14.0,21.5],[14.0,15.5],[14.5,19.0],[15.0,26.5],[15.0,23.0],[15.5,17.5],[16.0,21.0],[16.5,25.0],[17.0,19.5],[17.5,23.0],[18.0,27.0],[18.5,21.0],[19.0,25.0],[20.0,27.5],[21.0,26.0],
  [7.8,13.1],[8.2,16.6],[8.4,20.9],[8.7,14.6],[8.9,18.1],[9.2,22.9],[9.4,15.9],[9.7,19.4],[9.9,13.1],[10.2,17.9],[10.4,21.4],[10.7,15.1],[10.9,19.9],[11.2,24.4],[11.4,17.4],[11.7,21.9],[11.9,14.4],[12.2,20.4],[12.4,23.4],[12.7,18.1],[12.9,25.9],[13.2,16.4],[13.4,21.4],[13.7,19.4],[13.9,26.4],[14.2,17.6],[14.4,23.1],[14.7,20.6],[14.9,16.1],[15.2,24.6],[15.4,19.1],[15.7,22.4],[15.9,27.6],[16.3,20.1],[16.6,23.9],[16.9,18.1],[17.2,26.1],[17.6,21.9],[17.9,24.6],[18.3,28.4],[18.7,22.6],[19.1,26.9],[19.4,24.1],[20.4,29.1],[20.9,25.6],[21.4,22.6],[22.1,27.4],[22.9,26.1],[10.6,11.1],[14.1,13.1],[16.1,14.4],[18.4,17.1],[9.6,26.1],[13.1,28.1]];

const seasonPoints = [pts2004, pts2005, pts2006, pts2007, pts2008, pts2009, pts2010, pts2011,
                      pts2012, pts2013, pts2014, pts2015, pts2016, pts2017, pts2018, pts2019];

// fitted line end points [EFF, USG%] per season
const fitStart = [[5.8,16.9],[0.05,11.7],[-0.9,12.4],[5.4,15.7],[4.0,14.2],[5.1,15.8],[-3.55,11.4],[5.8,16.1],
                  [4.6,15.9],[4.5,15.6],[4.7,15.9],[2.4,12.6],[5.9,15.3],[4.5,15.3],[6.25,14.9],[1.8,11.7]];
const fitEnd   = [[31.5,31.3],[29.7,31.2],[28.4,29.3],[28.8,28.7],[30.9,31.5],[31.6,30.5],[28.3,28.6],[30.7,31.5],
                  [30.7,30.2],[30.4,30.4],[30.0,31.0],[29.4,31.0],[32.9,34.1],[33.7,33.4],[34.8,34.4],[34.7,34.3]];

// where the overplotted dashes merge into a solid stroke (style only)
const solidSpan = [[5.8,31.5],[4,29.7],[6,28.4],null,null,[5.1,31.6],[-3.55,6],null,
                   [7,30.7],null,null,null,null,[8,33.7],[8,34.8],null];

const PLOT_W = 267, PLOT_H = 165, AX_W = 50, AX_H = 30, PAD_T = 4, PAD_R = 6;
const colLeft = [78, 398, 719, 1039];
const rowTop = [107, 306, 504, 703];
const BLUE = 'rgba(31,119,180,0.3)';

Chart.defaults.font.family = '"DejaVu Sans", sans-serif';
Chart.defaults.color = '#000';

const framePlugin = {
    id: 'frame',
    afterDraw(chart) {
        const { ctx, chartArea: a } = chart;
        ctx.save();
        ctx.strokeStyle = '#000';
        ctx.lineWidth = 1.8;
        ctx.strokeRect(a.left, a.top, a.right - a.left, a.bottom - a.top);
        ctx.restore();
    }
};

// fixed axis size, no extra label padding, so every plot box lands on the same grid
function fixAxis(s, size) {
    if (s.isHorizontal()) s.height = size; else s.width = size;
    s.paddingTop = 0; s.paddingBottom = 0; s.paddingLeft = 0; s.paddingRight = 0;
}

const fig = document.getElementById('fig');

seasons.forEach((season, i) => {
    const r = Math.floor(i / 4), c = i % 4;

    const cv = document.createElement('canvas');
    cv.width = AX_W + PLOT_W + PAD_R;
    cv.height = PAD_T + PLOT_H + AX_H;
    cv.style.left = (colLeft[c] - AX_W) + 'px';
    cv.style.top = (rowTop[r] - PAD_T) + 'px';
    fig.appendChild(cv);

    const title = document.createElement('div');
    title.className = 'lbl';
    title.style.left = (colLeft[c] + PLOT_W / 2) + 'px';
    title.style.top = (rowTop[r] - 11) + 'px';
    title.style.fontSize = '17px';
    title.textContent = season;
    fig.appendChild(title);

    const [x0, y0] = fitStart[i], [x1, y1] = fitEnd[i];
    const fy = x => y0 + (y1 - y0) * (x - x0) / (x1 - x0);

    const datasets = [
        {
            data: [{ x: x0, y: y0 }, { x: x1, y: y1 }],
            showLine: true, borderColor: '#000', borderWidth: 2.4,
            borderDash: [7, 3], pointRadius: 0, order: 0
        },
        {
            data: seasonPoints[i].map(p => ({ x: p[0], y: p[1] })),
            backgroundColor: BLUE, borderColor: BLUE,
            pointRadius: 5.2, pointBorderWidth: 1, order: 1
        }
    ];
    if (solidSpan[i]) {
        const [a, b] = solidSpan[i];
        datasets.unshift({
            data: [{ x: a, y: fy(a) }, { x: b, y: fy(b) }],
            showLine: true, borderColor: '#000', borderWidth: 2.4,
            pointRadius: 0, order: 0
        });
    }

    const tickGrid = {
        drawOnChartArea: false, drawTicks: true,
        tickLength: 8, tickWidth: 1.8, tickColor: '#000'
    };

    new Chart(cv, {
        type: 'scatter',
        data: { datasets },
        options: {
            responsive: false,
            animation: false,
            events: [],
            layout: { autoPadding: false, padding: { top: PAD_T, right: PAD_R, left: 0, bottom: 0 } },
            plugins: { legend: { display: false }, tooltip: { enabled: false } },
            scales: {
                x: {
                    type: 'linear', min: -5.4, max: 36,
                    afterBuildTicks: s => { s.ticks = xTicks.map(v => ({ value: v })); },
                    afterFit: s => fixAxis(s, AX_H),
                    ticks: { display: r === 3, font: { size: 15.5 }, color: '#000', padding: 5, maxRotation: 0 },
                    grid: tickGrid,
                    border: { display: false }
                },
                y: {
                    type: 'linear', min: -2.1, max: 44.1,
                    afterBuildTicks: s => { s.ticks = yTicks.map(v => ({ value: v })); },
                    afterFit: s => fixAxis(s, AX_W),
                    ticks: { display: c === 0, font: { size: 15.5 }, color: '#000', padding: 3 },
                    grid: tickGrid,
                    border: { display: false }
                }
            }
        },
        plugins: [framePlugin]
    });
});
</script>
</body>
</html>
